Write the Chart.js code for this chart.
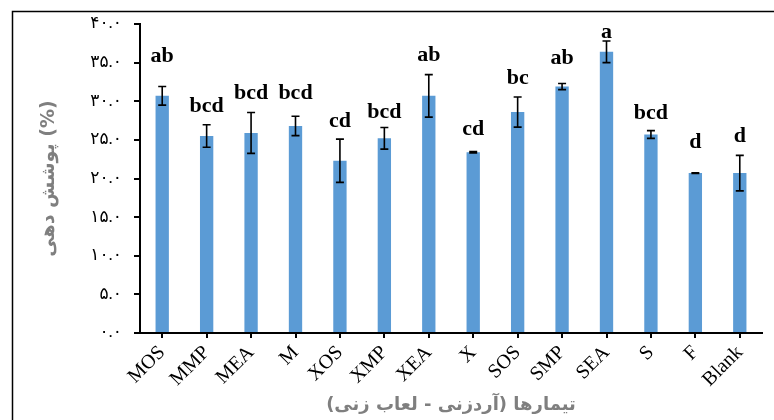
<!DOCTYPE html>
<html>
<head>
<meta charset="utf-8">
<script src="https://cdn.jsdelivr.net/npm/chart.js@4/dist/chart.umd.min.js"></script>
<style>
  html, body { margin: 0; padding: 0; background: #ffffff; }
  #wrap { width: 774px; height: 420px; position: relative; }
</style>
</head>
<body>
<div id="wrap"><canvas id="chart" width="774" height="420"></canvas></div>
<script>
// Treatments (flour coating - batter coating)
const categories = ['MOS', 'MMP', 'MEA', 'M', 'XOS', 'XMP', 'XEA', 'X', 'SOS', 'SMP', 'SEA', 'S', 'F', 'Blank'];
// Mean coating pickup (%)
const means = [30.7, 25.5, 25.9, 26.8, 22.3, 25.2, 30.7, 23.4, 28.6, 31.9, 36.4, 25.7, 20.7, 20.7];
// Standard deviation for each mean
const errors = [1.2, 1.45, 2.65, 1.25, 2.8, 1.4, 2.75, 0.1, 1.95, 0.4, 1.4, 0.5, 0.05, 2.3];
// Significance groups
const letters = ['ab', 'bcd', 'bcd', 'bcd', 'cd', 'bcd', 'ab', 'cd', 'bc', 'ab', 'a', 'bcd', 'd', 'd'];
// Y axis tick labels (Persian digits), 0 to 40 step 5
const yTickLabels = ['۰.۰', '۵.۰', '۱۰.۰', '۱۵.۰', '۲۰.۰', '۲۵.۰', '۳۰.۰', '۳۵.۰', '۴۰.۰'];

const yTitle = 'پوشش دهی (%)';
const xTitle = 'تیمارها (آردزنی - لعاب زنی)';

// Frame around the figure
const framePlugin = {
  id: 'frame',
  beforeDraw(chart) {
    const ctx = chart.ctx;
    ctx.save();
    ctx.fillStyle = '#ffffff';
    ctx.fillRect(0, 0, chart.width, chart.height);
    ctx.strokeStyle = '#000000';
    ctx.lineWidth = 1.5;
    ctx.strokeRect(12.5, 11.5, chart.width + 20, chart.height + 20);
    ctx.restore();
  }
};

// Error bars and group letters above each bar
const errorLetterPlugin = {
  id: 'errorLetters',
  afterDatasetsDraw(chart, args, opts) {
    const ctx = chart.ctx;
    const y = chart.scales.y;
    const meta = chart.getDatasetMeta(0);
    ctx.save();
    ctx.strokeStyle = '#000000';
    ctx.lineWidth = 1.6;
    meta.data.forEach((bar, i) => {
      const x = bar.x;
      const top = y.getPixelForValue(means[i] + errors[i]);
      const bot = y.getPixelForValue(means[i] - errors[i]);
      const cap = 4;
      ctx.beginPath();
      ctx.moveTo(x, top); ctx.lineTo(x, bot);
      ctx.moveTo(x - cap, top); ctx.lineTo(x + cap, top);
      ctx.moveTo(x - cap, bot); ctx.lineTo(x + cap, bot);
      ctx.stroke();
      ctx.fillStyle = '#000000';
      ctx.font = 'bold 22px "Liberation Serif", "Times New Roman", serif';
      ctx.textAlign = 'center';
      ctx.textBaseline = 'alphabetic';
      ctx.fillText(letters[i], x, top - opts.lift[i]);
    });
    ctx.restore();
  }
};

new Chart(document.getElementById('chart'), {
  type: 'bar',
  data: {
    labels: categories,
    datasets: [{
      data: means,
      backgroundColor: '#5B9BD5',
      borderWidth: 0,
      barPercentage: 0.3,
      categoryPercentage: 1.0
    }]
  },
  options: {
    responsive: false,
    animation: false,
    devicePixelRatio: 1,
    layout: { padding: { left: 0, right: 12, top: 24, bottom: 0 } },
    plugins: {
      legend: { display: false },
      tooltip: { enabled: false },
      errorLetters: { lift: [25, 13, 13, 17, 12, 10, 14, 16, 13, 19, 3, 12, 25, 13] }
    },
    scales: {
      x: {
        offset: true,
        grid: {
          offset: false,
          drawOnChartArea: false,
          drawTicks: true,
          tickLength: 5,
          color: '#000000',
          lineWidth: 2
        },
        border: { display: true, color: '#000000', width: 2 },
        ticks: {
          autoSkip: false,
          maxRotation: 45,
          minRotation: 45,
          padding: 3,
          color: '#000000',
          font: { family: '"Liberation Serif", "Times New Roman", serif', size: 20 }
        },
        title: {
          display: true,
          text: xTitle,
          color: '#7F7F7F',
          padding: { top: 0, bottom: 4 },
          font: { family: '"DejaVu Sans", sans-serif', size: 18, weight: 'bold' }
        },
        afterFit(scale) { scale.height = 87; }
      },
      y: {
        min: 0,
        max: 40,
        ticks: {
          stepSize: 5,
          padding: 12,
          color: '#000000',
          font: { family: '"Liberation Serif", "Times New Roman", "DejaVu Sans", serif', size: 17 },
          callback: (value) => yTickLabels[Math.round(value / 5)]
        },
        grid: {
          drawOnChartArea: false,
          drawTicks: true,
          tickLength: 6,
          color: '#000000',
          lineWidth: 2
        },
        border: { display: true, color: '#000000', width: 2 },
        title: {
          display: true,
          text: yTitle,
          color: '#7F7F7F',
          padding: { top: 38, bottom: 0 },
          font: { family: '"DejaVu Sans", sans-serif', size: 19, weight: 'bold' }
        },
        afterFit(scale) { scale.width = 140; }
      }
    }
  },
  plugins: [framePlugin, errorLetterPlugin]
});
</script>
</body>
</html>
